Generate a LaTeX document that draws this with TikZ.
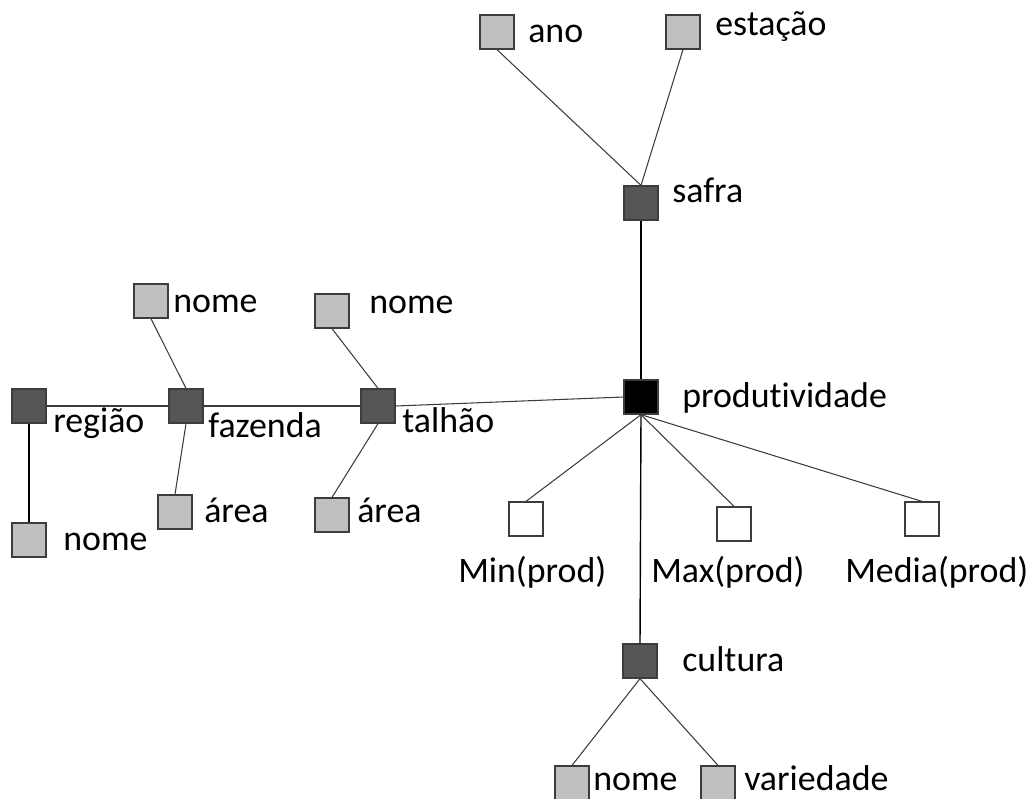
\documentclass[tikz,border=0pt]{standalone}
\usepackage{fontspec}
\setmainfont[Ligatures=NoCommon]{Carlito}
\definecolor{cinza}{RGB}{192,192,192}
\definecolor{escuro}{RGB}{85,85,85}
\definecolor{borda}{RGB}{60,60,60}
\tikzset{
  caixa/.style={draw=borda, line width=0.9pt, minimum size=0.85cm, inner sep=0pt},
  atributo/.style={caixa, fill=cinza},
  dimensao/.style={caixa, fill=escuro},
  fato/.style={caixa, fill=black},
  medida/.style={caixa, fill=white},
  rotulo/.style={anchor=base west, inner sep=0pt},
  liga/.style={draw=borda, line width=0.75pt},
  eixo/.style={draw=black, line width=1pt}
}
\begin{document}
\begin{tikzpicture}[x=0.025cm, y=-0.025cm, font=\fontsize{25.5}{30}\selectfont]
    \useasboundingbox (0,0) rectangle (1032,798);
    \node[atributo] (ano) at (497,32) {};
    \node[atributo] (estacao) at (683,32) {};
    \node[dimensao] (safra) at (641,203) {};
    \node[fato] (prod) at (641,397) {};
    \node[medida] (min) at (526,519) {};
    \node[medida] (max) at (734,524) {};
    \node[medida] (media) at (922,519) {};
    \node[dimensao] (cultura) at (640,661) {};
    \node[atributo] (cnome) at (572,783) {};
    \node[atributo] (variedade) at (718,783) {};
    \node[dimensao] (talhao) at (378,406) {};
    \node[atributo] (tnome) at (332,311) {};
    \node[atributo] (tarea) at (332,515) {};
    \node[dimensao] (fazenda) at (186,406) {};
    \node[atributo] (fnome) at (151,301) {};
    \node[atributo] (farea) at (175,512) {};
    \node[dimensao] (regiao) at (29,406) {};
    \node[atributo] (rnome) at (29,540) {};
    \node[rotulo] (lano) at (528,42) {ano};
    \node[rotulo] (lestacao) at (715,35) {estação};
    \node[rotulo] (lsafra) at (672,202) {safra};
    \node[rotulo] (lprod) at (682,407) {produtividade};
    \node[rotulo] (lmin) at (458,582) {Min(prod)};
    \node[rotulo] (lmax) at (651,582) {Max(prod)};
    \node[rotulo] (lmedia) at (845,582) {Media(prod)};
    \node[rotulo] (lcultura) at (682,671) {cultura};
    \node[rotulo] (lcnome) at (593,790) {nome};
    \node[rotulo] (lvariedade) at (744,790) {variedade};
    \node[rotulo] (ltalhao) at (402,432) {talhão};
    \node[rotulo] (ltnome) at (369,313) {nome};
    \node[rotulo] (ltarea) at (357,522) {área};
    \node[rotulo] (lfazenda) at (208,437) {fazenda};
    \node[rotulo] (lfnome) at (173,312) {nome};
    \node[rotulo] (lfarea) at (204,522) {área};
    \node[rotulo] (lregiao) at (53,432) {região};
    \node[rotulo] (lrnome) at (63,550) {nome};
    \draw[liga] (ano.south) -- (safra.north);
    \draw[liga] (estacao.south) -- (safra.north);
    \draw[eixo] (safra.south) -- (prod.north);
    \draw[eixo] (prod.south) -- (cultura.north);
    \draw[liga] (prod.south) -- (min.north);
    \draw[liga] (prod.south) -- (max.north);
    \draw[liga] (prod.south) -- (media.north);
    \draw[liga] (cultura.south) -- (cnome.north);
    \draw[liga] (cultura.south) -- (variedade.north);
    \draw[liga] (talhao.east) -- (prod.west);
    \draw[liga] (tnome.south) -- (talhao.north);
    \draw[liga] (talhao.south) -- (tarea.north);
    \draw[liga] (fazenda.east) -- (talhao.west);
    \draw[liga] (fnome.south) -- (fazenda.north);
    \draw[liga] (fazenda.south) -- (farea.north);
    \draw[liga] (regiao.east) -- (fazenda.west);
    \draw[eixo] (regiao.south) -- (rnome.north);
\end{tikzpicture}
\end{document}
